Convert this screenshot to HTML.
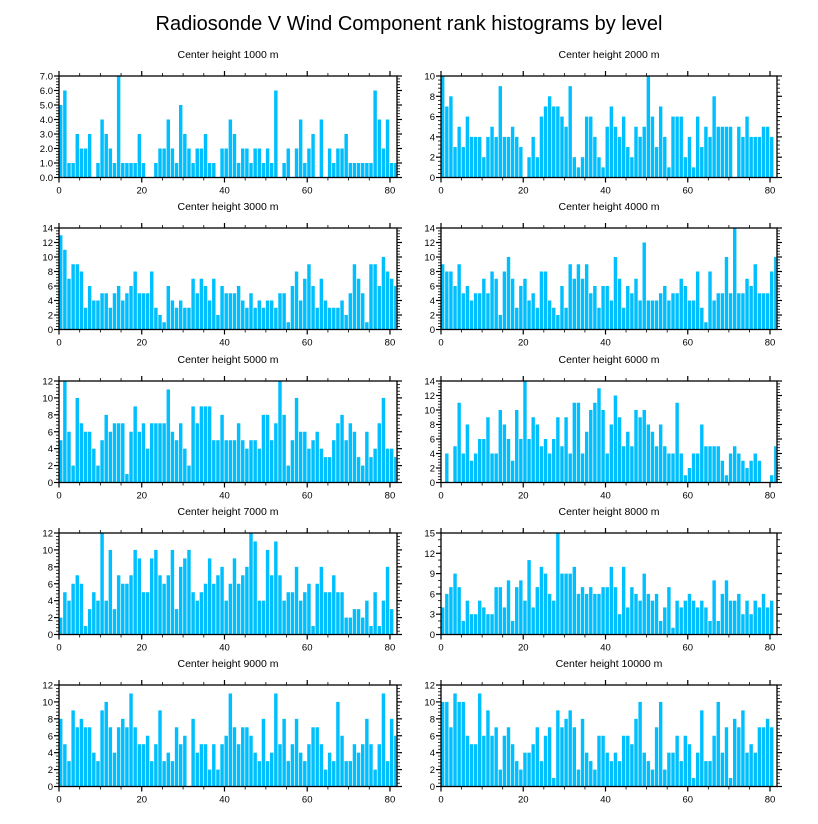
<!DOCTYPE html>
<html><head><meta charset="utf-8"><style>
html,body{margin:0;padding:0;background:#fff;}
svg{display:block;font-family:"Liberation Sans",sans-serif;}
</style></head><body>
<svg id="chart" width="818" height="824" viewBox="0 0 818 824">
<text x="409" y="30" text-anchor="middle" font-size="20" fill="#000">Radiosonde V Wind Component rank histograms by level</text>
</svg>
<script>
const panelTitles = ["Center height 1000 m","Center height 2000 m","Center height 3000 m","Center height 4000 m","Center height 5000 m","Center height 6000 m","Center height 7000 m","Center height 8000 m","Center height 9000 m","Center height 10000 m"];
const yMaxes = [7,10,14,14,12,14,12,15,12,12];
const yStepLabels = [1,2,2,2,2,2,2,3,2,2];
const xTickLabels = [0,20,40,60,80];
const h1000 = [5,6,1,1,3,2,2,3,0,1,4,3,2,1,7,1,1,1,1,3,1,0,0,1,2,2,4,2,1,5,3,2,1,2,2,3,1,1,0,2,2,4,3,1,2,2,1,2,2,1,2,1,6,0,1,2,0,2,4,1,2,3,0,4,0,2,1,2,2,3,1,1,1,1,1,1,6,4,2,4,1,1];
const h2000 = [10,7,8,3,5,3,6,4,4,4,2,4,5,4,9,4,4,5,4,3,0,2,4,2,6,7,8,7,7,6,5,9,2,1,2,6,6,4,2,1,5,7,5,4,6,3,2,5,4,5,10,6,3,7,4,1,6,6,6,2,4,1,6,3,5,4,8,5,5,5,5,0,5,4,6,4,4,4,5,5,4];
const h3000 = [13,11,7,9,9,8,3,6,4,4,5,5,3,5,6,4,5,6,8,5,5,5,8,3,2,1,6,4,3,4,3,3,7,5,7,6,4,7,2,6,5,5,5,6,4,3,5,3,4,3,4,4,3,5,5,1,6,8,4,7,9,6,3,7,4,3,3,3,4,2,5,9,7,5,1,9,9,6,10,8,7,6];
const h4000 = [9,8,8,6,9,5,6,4,5,5,7,5,8,7,2,8,10,7,3,6,7,4,5,3,8,8,4,3,2,6,3,9,7,9,7,9,5,6,3,6,6,4,10,7,3,6,5,7,4,12,4,4,4,5,6,4,5,5,7,6,4,4,8,3,1,8,4,5,5,10,5,14,5,5,7,6,9,5,5,5,8,10];
const h5000 = [5,12,6,2,10,7,6,6,4,2,5,8,6,7,7,7,1,6,9,6,7,4,7,7,7,7,11,6,5,7,4,2,9,7,9,9,9,5,5,8,5,5,5,7,5,4,5,5,4,8,8,5,7,12,8,2,5,10,6,6,4,5,6,4,3,3,5,7,8,5,7,6,3,2,6,3,4,7,10,4,4,3];
const h6000 = [0,4,0,5,11,4,8,3,4,6,6,9,4,4,10,8,6,3,10,6,14,6,9,8,5,6,4,6,9,5,9,4,11,11,4,7,10,11,13,10,4,8,12,9,5,7,5,10,9,10,8,7,5,8,5,4,4,11,4,1,2,4,4,8,5,5,5,5,3,1,4,5,4,3,2,3,4,3,0,0,1,5];
const h7000 = [2,5,4,6,7,6,1,3,5,4,12,4,10,3,7,6,6,7,10,9,5,5,9,10,7,6,7,10,3,8,9,10,5,4,5,6,9,6,7,8,4,6,9,6,7,8,12,11,4,4,10,7,11,7,4,5,5,8,4,5,6,1,6,8,5,5,7,5,5,2,2,3,3,2,4,1,5,1,4,8,3];
const h8000 = [4,6,7,9,7,2,5,3,3,5,4,3,3,7,7,4,8,2,7,8,5,11,4,7,10,9,6,5,15,9,9,9,10,6,7,6,7,6,6,7,7,10,7,3,10,4,7,6,5,9,6,5,6,2,4,7,1,5,4,5,6,5,4,5,4,2,8,2,6,8,5,5,6,3,5,3,5,4,6,4,5];
const h9000 = [8,5,3,9,7,8,7,7,4,3,9,10,7,4,7,8,7,11,7,5,5,6,3,5,9,3,4,3,7,5,6,0,8,4,5,5,2,5,2,5,6,11,7,5,7,7,6,4,3,8,3,4,11,5,8,3,5,8,4,3,5,7,7,5,2,4,3,10,6,3,3,5,4,5,8,5,2,5,11,3,8,6];
const h10000 = [10,10,7,11,10,10,6,5,5,11,6,9,6,7,2,6,7,5,3,2,4,4,5,7,3,6,7,1,9,7,8,9,7,2,8,4,3,2,6,6,4,3,4,3,6,6,5,8,10,4,3,2,7,10,2,4,4,6,3,6,5,1,4,9,3,3,6,10,4,7,1,8,7,9,4,5,4,7,7,8,7];
const allSeries = [h1000,h2000,h3000,h4000,h5000,h6000,h7000,h8000,h9000,h10000];

const NS = "http://www.w3.org/2000/svg";
const svg = document.getElementById('chart');
const X_MAX = 81.7;
const colLeft = [59, 441], colWidth = [338, 336];
const rowTop = [76, 228, 381, 533, 685], panelH = 101.5;

function mk(tag, attrs, parent){
  const e = document.createElementNS(NS, tag);
  for (const k in attrs) e.setAttribute(k, attrs[k]);
  parent.appendChild(e);
  return e;
}

allSeries.forEach((vals, p) => {
  const col = p % 2, row = Math.floor(p / 2);
  const L = colLeft[col], W = colWidth[col], T = rowTop[row], H = panelH, B = T + H;
  const yMax = yMaxes[p], step = yStepLabels[p];
  const xs = v => L + v / X_MAX * W;
  const ys = v => B - v / yMax * H;
  const g = mk('g', {}, svg);
  
  

  const t = mk('text', {x: L + W/2, y: T - 18, 'text-anchor': 'middle', 'font-size': '10.5', fill: '#000'}, g);
  t.textContent = panelTitles[p];
  
  

  vals.forEach((v, i) => {
    if (v <= 0) return;
    const x0 = xs(i), x1 = Math.min(xs(i + 1), L + W);
    const r = mk('rect', {x: x0, y: ys(v), width: Math.max(0, x1 - x0 - 0.7), height: B - ys(v), fill: '#00bfff'}, g);
    
    
  });

  const fr = mk('rect', {x: L, y: T, width: W, height: H, fill: 'none', stroke: '#000', 'stroke-width': '1.3'}, g);
  
  

  for (let v = 0; v <= 80; v += 5) {
    const major = v % 20 === 0, len = major ? 5 : 3, x = xs(v);
    mk('line', {x1: x, y1: B, x2: x, y2: B + len, stroke: '#000', 'stroke-width': major ? 1.2 : 0.8}, g);
    mk('line', {x1: x, y1: T, x2: x, y2: T - len, stroke: '#000', 'stroke-width': major ? 1.2 : 0.8}, g);
  }
  xTickLabels.forEach(v => {
    const tl = mk('text', {x: xs(v), y: B + 16, 'text-anchor': 'middle', 'font-size': '9.5', fill: '#000'}, g);
    tl.textContent = v;
    
    
  });
  const minor = step === 3 ? 1 : (step === 1 ? 0.2 : 0.4);
  for (let k = 0; k * minor <= yMax + 1e-9; k++) {
    const v = k * minor, y = ys(v);
    const isMajor = Math.abs(v / step - Math.round(v / step)) < 1e-6;
    const len = isMajor ? 5 : 3;
    mk('line', {x1: L, y1: y, x2: L - len, y2: y, stroke: '#000', 'stroke-width': isMajor ? 1.2 : 0.8}, g);
    mk('line', {x1: L + W, y1: y, x2: L + W + len, y2: y, stroke: '#000', 'stroke-width': isMajor ? 1.2 : 0.8}, g);
    if (isMajor) {
      const yl = mk('text', {x: L - 6, y: y + 3.5, 'text-anchor': 'end', 'font-size': '9.5', fill: '#000'}, g);
      yl.textContent = step === 1 ? v.toFixed(1) : Math.round(v);
      
      
    }
  }
});
</script>
</body></html>
